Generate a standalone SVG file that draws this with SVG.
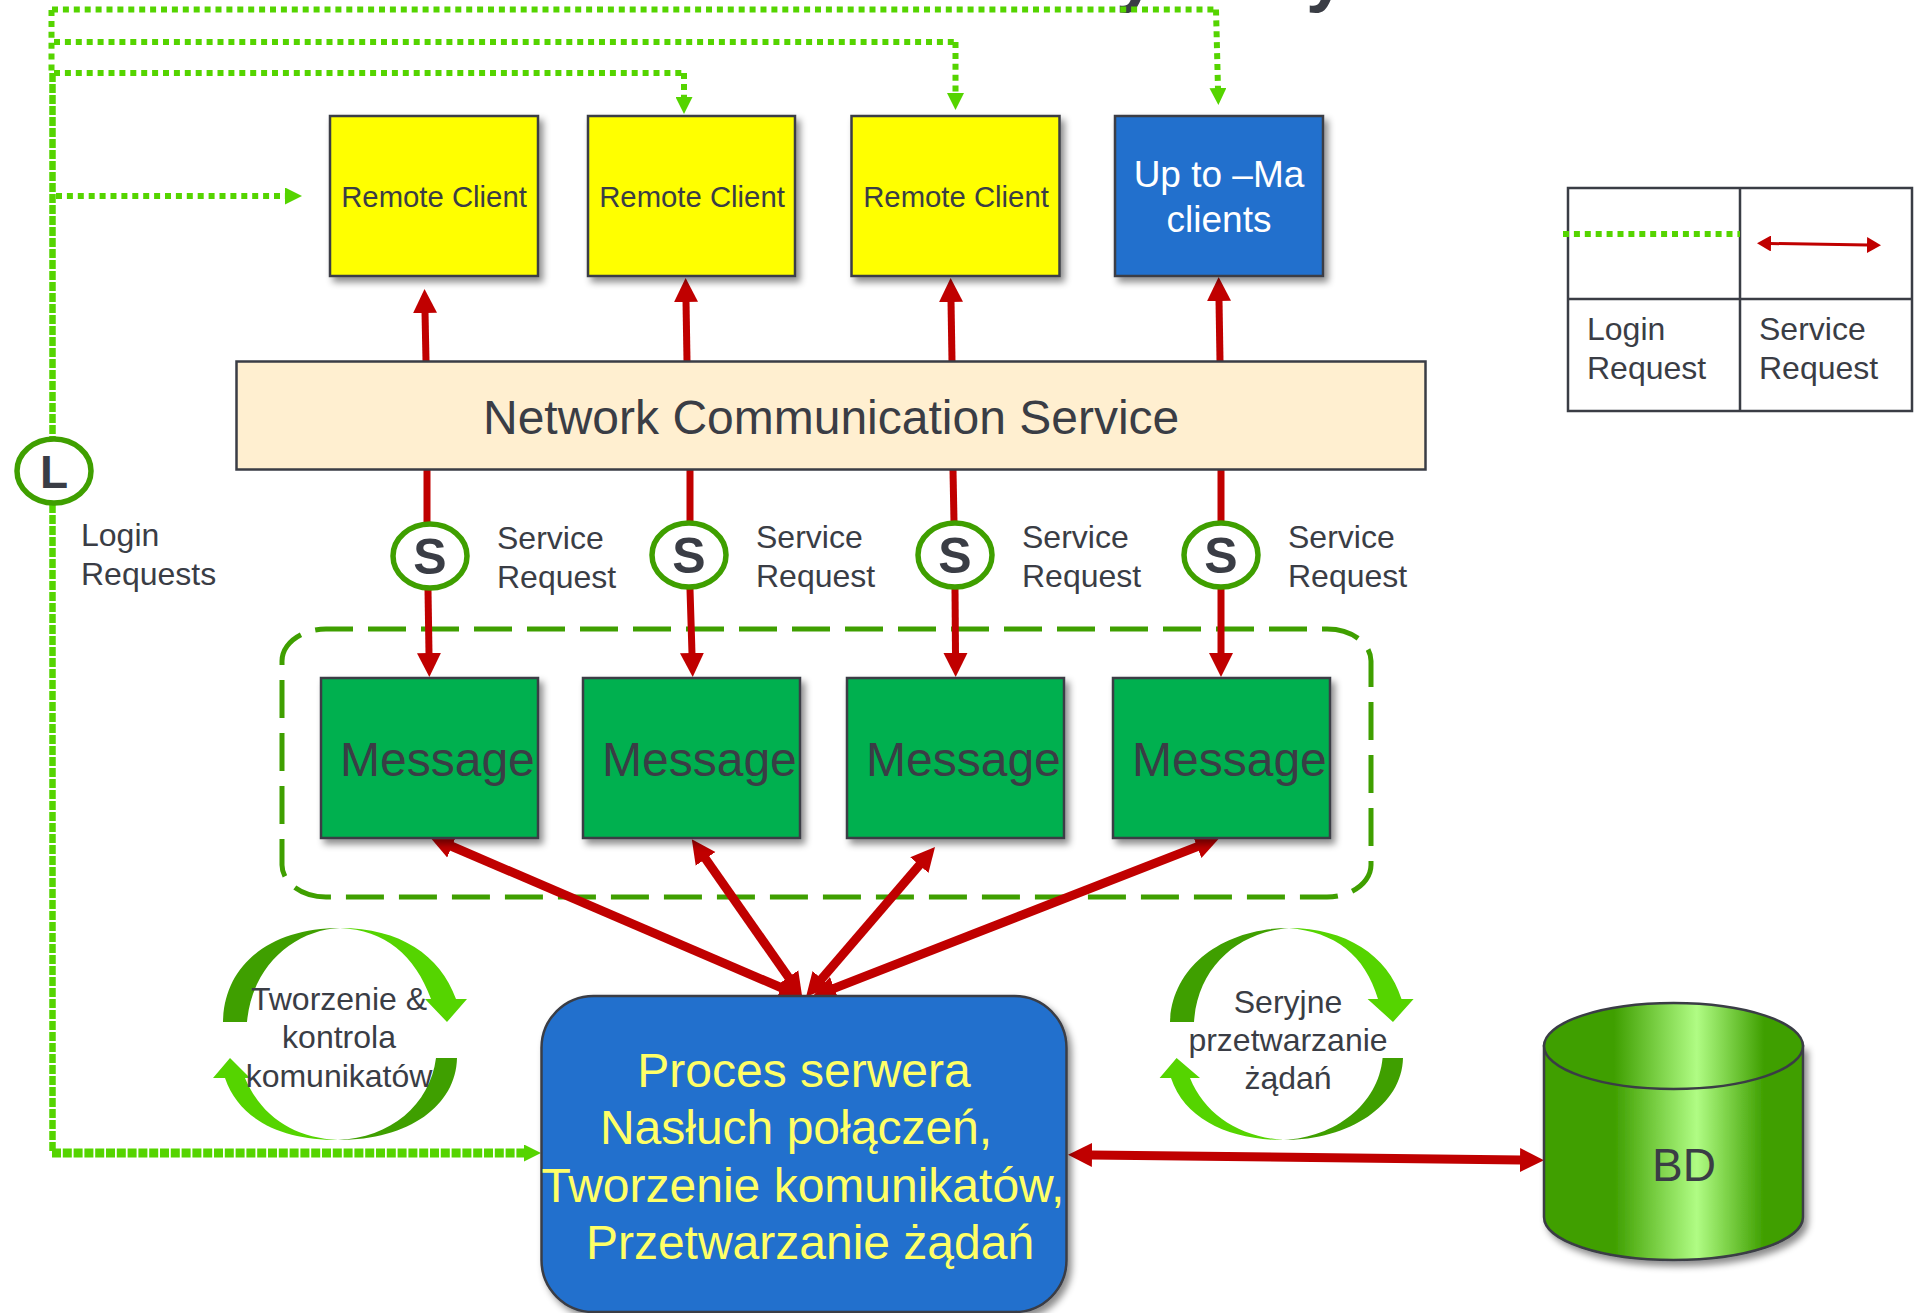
<svg xmlns="http://www.w3.org/2000/svg" width="1918" height="1313" viewBox="0 0 1918 1313">
<style>
text{font-family:"Liberation Sans",Arial,sans-serif;fill:#3a3d45}
.b{stroke:#3a3d45;stroke-width:2.5}
.r{stroke:#c00000;stroke-width:7;fill:none}
.d{stroke-width:9}
.g{stroke:#55d400;stroke-width:6;fill:none;stroke-dasharray:6 4.9}
.s{stroke:#55d400;stroke-width:6.500;fill:none;stroke-dasharray:9 2}
.f32{font-size:32px}
.rc{font-size:29.300px;text-anchor:middle}
.msg{font-size:48px}
.srv{font-size:48px;text-anchor:middle;fill:#ffff66}
.mid{text-anchor:middle}
.circ{fill:#fff;stroke:#3f9f00;stroke-width:5.5}
.let{font-weight:bold;text-anchor:middle}
.dk{fill:#3f9f00}
.lt{fill:#55d400}
</style>
<defs>
<filter id="sh" x="-10%" y="-10%" width="125%" height="125%"><feDropShadow dx="4" dy="5" stdDeviation="3.5" flood-color="#000" flood-opacity=".45"/></filter>
<linearGradient id="cyl" x1="0" x2="1" y1="0" y2="0">
<stop offset="0" stop-color="#3f9f00"/><stop offset=".27" stop-color="#3f9f00"/><stop offset=".59" stop-color="#b0fc84"/><stop offset=".85" stop-color="#3f9f00"/><stop offset="1" stop-color="#3f9f00"/>
</linearGradient>
<marker id="ra" markerUnits="userSpaceOnUse" markerWidth="24" markerHeight="26" refX="1" refY="13" viewBox="0 0 24 26" orient="auto-start-reverse"><polygon points="0,1 24,13 0,25" fill="#c00000"/></marker>
<marker id="rs" markerUnits="userSpaceOnUse" markerWidth="14" markerHeight="16" refX="1" refY="8" viewBox="0 0 14 16" orient="auto-start-reverse"><polygon points="0,0 14,8 0,16" fill="#c00000"/></marker>
<marker id="ga" markerUnits="userSpaceOnUse" markerWidth="17" markerHeight="17" refX="1" refY="8.500" viewBox="0 0 17 17" orient="auto"><polygon points="0,0 17,8.500 0,17" fill="#55d400"/></marker>
</defs>

<g id="title-fragment">
<text x="1116" y="-2" font-size="72" font-weight="bold">y</text>
<text x="1306" y="-2" font-size="72" font-weight="bold">y</text>
</g>

<g id="message-group">
<rect x="282" y="629" width="1089" height="268" rx="44" ry="32" fill="none" stroke="#3f9f00" stroke-width="5" stroke-dasharray="38 15" stroke-dashoffset="-42"/>
</g>

<g id="connectors">
<path class="g" d="M52 9.500H1216"/>
<path class="g" d="M1216 9.500L1218 89" marker-end="url(#ga)"/>
<path class="g" d="M54 42H955"/>
<path class="g" d="M955.500 42V94" marker-end="url(#ga)"/>
<path class="g" d="M54 73H684"/>
<path class="g" d="M684 73V98" marker-end="url(#ga)"/>
<path class="g" d="M56 196H286" marker-end="url(#ga)"/>
<path class="g" d="M51.500 10V73"/>
<path class="s" d="M52.500 73V438"/>
<path class="s" d="M52.500 504V1153"/>
<path class="s" d="M52 1153H525" style="stroke-width:9;stroke-dasharray:9 1.800" marker-end="url(#ga)"/>

<path class="r" d="M426 361L425 312" marker-end="url(#ra)"/>
<path class="r" d="M687 361L686 301" marker-end="url(#ra)"/>
<path class="r" d="M952 361L951 301" marker-end="url(#ra)"/>
<path class="r" d="M1220 361L1219 300" marker-end="url(#ra)"/>

<path class="r" d="M427 470V523"/>
<path class="r" d="M690 470V522"/>
<path class="r" d="M953 470L954 522"/>
<path class="r" d="M1221 470V522"/>
<path class="r" d="M428 590L429 654" marker-end="url(#ra)"/>
<path class="r" d="M690 589L692 654" marker-end="url(#ra)"/>
<path class="r" d="M955 589L955.500 654" marker-end="url(#ra)"/>
<path class="r" d="M1221 589V654" marker-end="url(#ra)"/>

<path class="r d" d="M451 846L782 988" marker-start="url(#ra)" marker-end="url(#ra)"/>
<path class="r d" d="M705 858L789 978" marker-start="url(#ra)" marker-end="url(#ra)"/>
<path class="r d" d="M920 864.400L821 979.600" marker-start="url(#ra)" marker-end="url(#ra)"/>
<path class="r d" d="M1198 846.400L833.400 988.600" marker-start="url(#ra)" marker-end="url(#ra)"/>
<path class="r d" d="M1091 1155L1521 1160" marker-start="url(#ra)" marker-end="url(#ra)"/>
</g>

<g id="client-1"><rect class="b" x="330" y="116" width="208" height="160" fill="#ffff00" filter="url(#sh)"/><text class="rc" x="434" y="207">Remote Client</text></g>
<g id="client-2"><rect class="b" x="588" y="116" width="207" height="160" fill="#ffff00" filter="url(#sh)"/><text class="rc" x="692" y="207">Remote Client</text></g>
<g id="client-3"><rect class="b" x="851.500" y="116" width="208" height="160" fill="#ffff00" filter="url(#sh)"/><text class="rc" x="956" y="207">Remote Client</text></g>
<g id="client-max"><rect class="b" x="1115" y="116" width="208" height="160" fill="#2170cd" filter="url(#sh)"/><text class="mid" x="1219" y="187" font-size="37" style="fill:#fff">Up to –Ma</text><text class="mid" x="1219" y="232" font-size="37" style="fill:#fff">clients</text></g>

<g id="network-service"><rect x="236.500" y="361.500" width="1189" height="108" fill="#ffefd0" stroke="#3a3d45" stroke-width="2.500"/><text x="483" y="434" font-size="48">Network Communication Service</text></g>

<g id="login-badge"><ellipse class="circ" cx="54" cy="471" rx="37" ry="32"/><text class="let" x="54" y="488" font-size="46">L</text></g>
<g id="login-label"><text class="f32" x="81" y="546">Login</text><text class="f32" x="81" y="585">Requests</text></g>

<g id="service-1"><ellipse class="circ" cx="430" cy="556" rx="37" ry="32"/><text class="let" x="430" y="574" font-size="50">S</text><text class="f32" x="497" y="549">Service</text><text class="f32" x="497" y="588">Request</text></g>
<g id="service-2"><ellipse class="circ" cx="689" cy="555" rx="37" ry="32"/><text class="let" x="689" y="573" font-size="50">S</text><text class="f32" x="756" y="548">Service</text><text class="f32" x="756" y="587">Request</text></g>
<g id="service-3"><ellipse class="circ" cx="955" cy="555" rx="37" ry="32"/><text class="let" x="955" y="573" font-size="50">S</text><text class="f32" x="1022" y="548">Service</text><text class="f32" x="1022" y="587">Request</text></g>
<g id="service-4"><ellipse class="circ" cx="1221" cy="555" rx="37" ry="32"/><text class="let" x="1221" y="573" font-size="50">S</text><text class="f32" x="1288" y="548">Service</text><text class="f32" x="1288" y="587">Request</text></g>

<g id="message-1"><rect class="b" x="321" y="678" width="217" height="160" fill="#00b050" filter="url(#sh)"/><text class="msg" x="340" y="776">Message</text></g>
<g id="message-2"><rect class="b" x="583" y="678" width="217" height="160" fill="#00b050" filter="url(#sh)"/><text class="msg" x="602" y="776">Message</text></g>
<g id="message-3"><rect class="b" x="847" y="678" width="217" height="160" fill="#00b050" filter="url(#sh)"/><text class="msg" x="866" y="776">Message</text></g>
<g id="message-4"><rect class="b" x="1113" y="678" width="217" height="160" fill="#00b050" filter="url(#sh)"/><text class="msg" x="1132" y="776">Message</text></g>

<g id="cycle-create">
<path class="dk" d="M223 1022C224 965 270 928 340 928C295 930 252 965 247 1022Z"/>
<path class="lt" d="M340 928C400 928 440 955 456 999H467L447 1022L425 999H431C415 955 385 930 340 928Z"/>
<path class="dk" d="M457 1058C456 1105 410 1140 338 1140C390 1138 430 1105 436 1058Z"/>
<path class="lt" d="M338 1140C285 1140 240 1122 225 1078H213L230 1058L250 1078H245C262 1118 295 1138 338 1140Z"/>
<text class="f32 mid" x="339" y="1010">Tworzenie &amp;</text><text class="f32 mid" x="339" y="1048">kontrola</text><text class="f32 mid" x="339" y="1087">komunikatów</text>
</g>
<g id="cycle-serial">
<path class="dk" d="M1170 1022C1172 965 1225 928 1289 928C1240 932 1198 965 1194 1022Z"/>
<path class="lt" d="M1289 928C1345 928 1388 955 1401.500 999H1413.600L1393 1022L1367.600 999H1378C1365 955 1335 932 1289 928Z"/>
<path class="dk" d="M1403 1058C1402 1105 1350 1140 1284 1140C1335 1137 1378 1105 1382.600 1058Z"/>
<path class="lt" d="M1284 1140C1230 1140 1185 1120 1171 1078H1159.600L1176.600 1058L1200 1078H1190C1205 1115 1240 1137 1284 1140Z"/>
<text class="f32 mid" x="1288" y="1013">Seryjne</text><text class="f32 mid" x="1288" y="1051">przetwarzanie</text><text class="f32 mid" x="1288" y="1089">żądań</text>
</g>

<g id="server">
<rect class="b" x="541.500" y="996" width="525" height="316" rx="52" ry="52" fill="#2170cd" filter="url(#sh)"/>
<text class="srv" x="804" y="1087">Proces serwera</text>
<text class="srv" x="796" y="1144">Nasłuch połączeń,</text>
<text class="srv" x="803" y="1202">Tworzenie komunikatów,</text>
<text class="srv" x="810" y="1259">Przetwarzanie żądań</text>
</g>

<g id="database">
<path d="M1544 1046V1217C1544 1241 1602 1260 1673.500 1260C1745 1260 1803 1241 1803 1217V1046Z" fill="url(#cyl)" stroke="#3a3d45" stroke-width="2.500" filter="url(#sh)"/>
<ellipse cx="1673.500" cy="1046" rx="129.500" ry="43" fill="url(#cyl)" stroke="#3a3d45" stroke-width="2.500"/>
<text class="mid" x="1684" y="1181" font-size="46">BD</text>
</g>

<g id="legend">
<path d="M1568 188H1912V411H1568ZM1740 188V411M1568 299H1912" fill="none" stroke="#3a3d45" stroke-width="2.500"/>
<path class="g" d="M1563 234H1740"/>
<path class="r" style="stroke-width:3" d="M1770 243.500L1868 245" marker-start="url(#rs)" marker-end="url(#rs)"/>
<text class="f32" x="1587" y="340">Login</text><text class="f32" x="1587" y="379">Request</text>
<text class="f32" x="1759" y="340">Service</text><text class="f32" x="1759" y="379">Request</text>
</g>
</svg>
